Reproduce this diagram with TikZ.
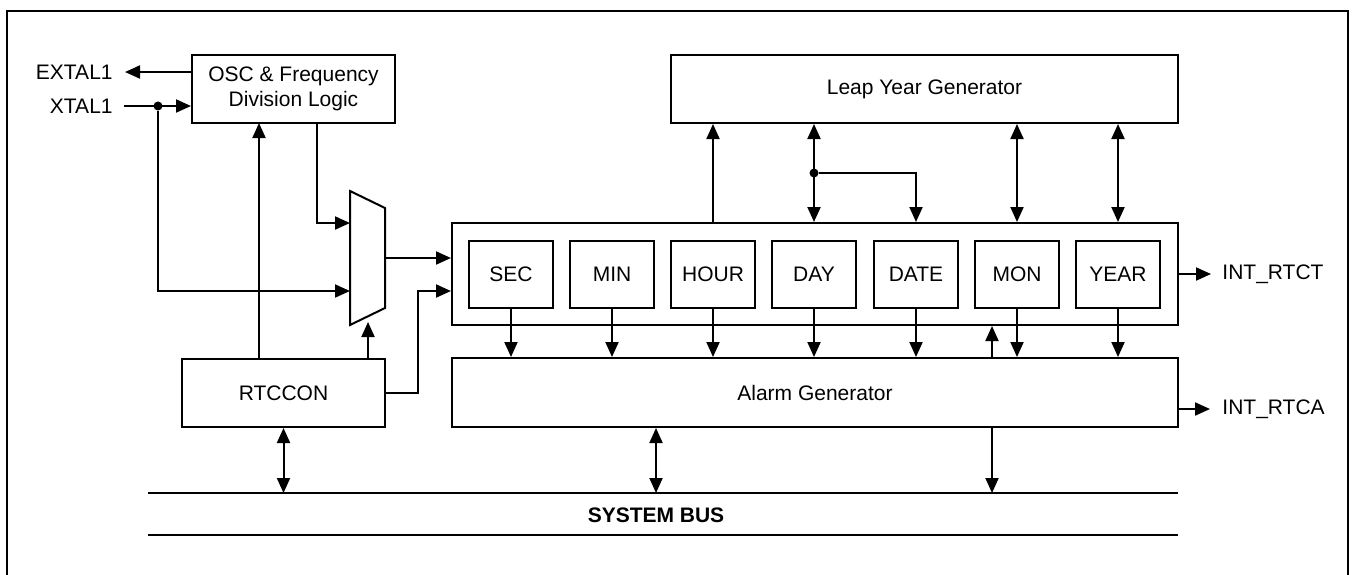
\documentclass[tikz,border=0pt]{standalone}
\usepackage{fontspec}
\setmainfont{Liberation Sans}
\usetikzlibrary{arrows.meta,positioning,calc}
\definecolor{wireblack}{HTML}{000000}
\tikzset{
  >={Triangle[length=7.5pt,width=6.5pt]},
  block/.style={
    rectangle, draw=wireblack, line width=1pt, inner sep=0pt,
    minimum width=101.5pt, minimum height=34pt, align=center,
    font=\fontsize{10.5}{12.5}\selectfont
  },
  wideblock/.style={block, minimum width=363pt},
  reg/.style={block, minimum width=42pt, minimum height=33.5pt},
  wire/.style={draw=wireblack, line width=1pt},
  arrow/.style={wire, ->},
  biarrow/.style={wire, <->},
  pin/.style={inner sep=0pt, font=\fontsize{10.5}{12.5}\selectfont},
  joint/.style={circle, fill=wireblack, inner sep=0pt, minimum size=4.5pt}
}

\begin{document}
\begin{tikzpicture}[x=0.5pt,y=-0.5pt]
\useasboundingbox (0,0) rectangle (1352,574);
\draw[line width=1.3pt] (7,590) -- (7,11) -- (1348,11) -- (1348,590);
% blocks
\node[block] (osc) at (293.5,89) {OSC \& Frequency\\Division Logic};
\node[block, minimum width=253.5pt] (leap) at (924.5,89) {Leap Year Generator};
\node[block] (rtccon) at (283.5,393) {RTCCON};
\node[wideblock, minimum height=51pt] (counter) at (815,274) {};
\node[wideblock, minimum height=34.5pt] (alarm) at (815,392.5) {Alarm Generator};
\foreach \name/\lbl/\x in {sec/SEC/511,min/MIN/612,hour/HOUR/713,day/DAY/814,date/DATE/916,mon/MON/1017,year/YEAR/1118}
  \node[reg] (\name) at (\x,274.5) {\lbl};
% clock select
\draw[wire] (350,191) -- (385,208) -- (385,308) -- (350,325) -- cycle;
\coordinate (muxin1) at (350,223);
\coordinate (muxin2) at (350,291);
\coordinate (muxout) at (385,258);
\coordinate (muxsel) at (368,322);
% pins
\node[pin, anchor=east] (extal) at (113,72) {EXTAL1};
\node[pin, anchor=east] (xtal) at (113,106) {XTAL1};
\node[pin, anchor=west] (rtct) at (1222,274) {INT\_RTCT};
\node[pin, anchor=west] (rtca) at (1222,409) {INT\_RTCA};
\node[joint] (xdot) at (158,106) {};
\draw[arrow] (osc.west |- extal) -- ($(extal.east)+(12,0)$);
\draw[arrow] ($(xtal.east)+(11,0)$) -- (osc.west |- xtal);
\draw[arrow] (xdot) |- (muxin2);
\draw[arrow] (317,123) |- (muxin1);
\draw[arrow] (259,359) -- (259,123);
\draw[arrow] (rtccon.north -| muxsel) -- (muxsel);
\draw[arrow] (muxout) -- (counter.west |- muxout);
\draw[arrow] (rtccon.east) -| (418,291) -- (counter.west |- muxin2);
\draw[arrow] (counter.east) -- ($(counter.east)+(32,0)$);
\draw[arrow] (alarm.east |- rtca) -- ($(rtca.west)+(-12,0)$);
% leap year links
\node[joint] (ddot) at (day |- 0,173) {};
\draw[arrow] (hour |- counter.north) -- (hour |- leap.south);
\draw[biarrow] (day |- leap.south) -- (day |- counter.north);
\draw[arrow] (ddot) -| (date |- counter.north);
\draw[biarrow] (mon |- leap.south) -- (mon |- counter.north);
\draw[biarrow] (year |- leap.south) -- (year |- counter.north);
% counters to alarm
\foreach \name in {sec,min,hour,day,date,mon,year}
  \draw[arrow] (\name.south) -- (\name |- alarm.north);
\coordinate (aux) at (992,358);
\draw[arrow] (aux) -- (aux |- counter.south);
% system bus
\coordinate (busl) at (148,493);
\coordinate (busr) at (1178,493);
\draw[wire] (busl) -- (busr);
\draw[wire] (148,535) -- (1178,535);
\node[font=\fontsize{10.5}{12.5}\selectfont\bfseries] (bus) at (656,515) {SYSTEM BUS};
\draw[biarrow] (rtccon.south) -- (rtccon |- busl);
\draw[biarrow] (alarm.south -| bus) -- (bus |- busl);
\draw[arrow] (alarm.south -| aux) -- (aux |- busl);
\end{tikzpicture}
\end{document}
